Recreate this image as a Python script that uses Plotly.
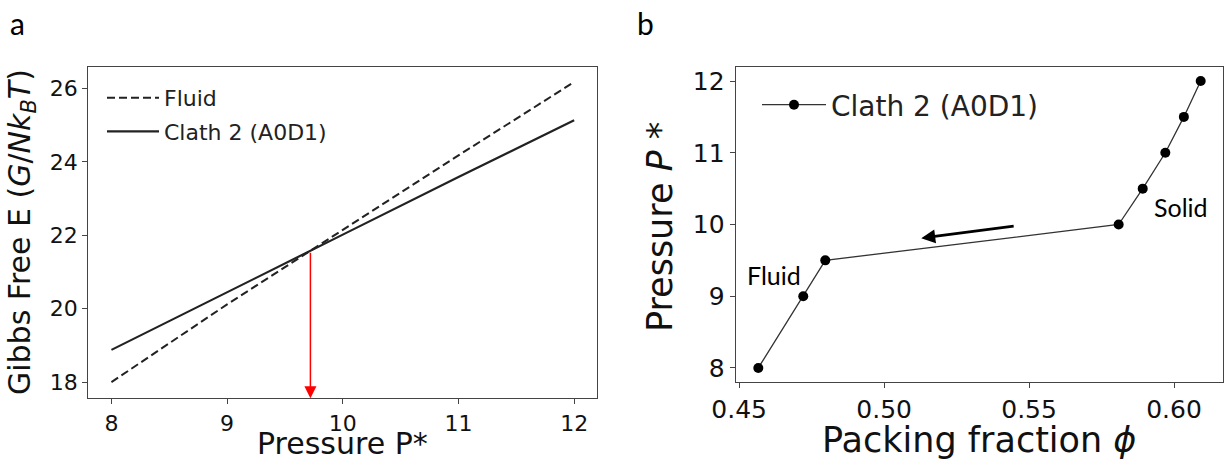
import plotly.graph_objects as go

# ---------------- data ----------------
# panel a: Gibbs free energy vs pressure
pressure_a = [8, 9, 10, 11, 12]
gibbs_fluid = [18.0, 20.12, 22.15, 24.18, 26.18]
gibbs_clath = [18.88, 20.46, 22.02, 23.59, 25.14]
coexistence_p = 9.72
coexistence_g = 21.57

# panel b: equation of state of Clath 2 (A0D1)
phi_b = [0.4566, 0.4721, 0.4797, 0.5809, 0.5892, 0.5970, 0.6034, 0.6092]
pressure_b = [8, 9, 9.5, 10, 10.5, 11, 11.5, 12]
arrow_b_phi = [0.5452, 0.5128]      # tail -> head
arrow_b_pressure = [9.98, 9.81]
fluid_label_pos = [0.4620, 9.30]
solid_label_pos = [0.6023, 10.24]

x_ticks_a = [8, 9, 10, 11, 12]
y_ticks_a = [18, 20, 22, 24, 26]
x_ticks_b = [0.45, 0.50, 0.55, 0.60]
y_ticks_b = [8, 9, 10, 11, 12]

x_range_a = [7.8, 12.2]
y_range_a = [17.56, 26.58]
x_range_b = [0.4488, 0.617]
y_range_b = [7.8, 12.2]

# ---------------- layout helpers ----------------
W, H = 1225, 461
FONT = "DejaVu Sans"
ANNOT_FONT = "Lato"
AX_COLOR = "#444444"
LINE_COLOR = "#222222"


def fx(p):
    return p / W


def fy(p):
    return 1 - p / H


fig = go.Figure()

fig.add_trace(go.Scatter(
    x=pressure_a, y=gibbs_fluid, mode="lines", name="Fluid",
    line=dict(color=LINE_COLOR, width=2, dash="8px,4px"),
    xaxis="x", yaxis="y", legend="legend", legendgroup="g1",
))
fig.add_trace(go.Scatter(
    x=pressure_a, y=gibbs_clath, mode="lines", name="Clath 2 (A0D1)",
    line=dict(color=LINE_COLOR, width=2.2),
    xaxis="x", yaxis="y", legend="legend", legendgroup="g2",
))
fig.add_trace(go.Scatter(
    x=phi_b, y=pressure_b, mode="lines+markers", name="Clath 2 (A0D1)",
    line=dict(color="#333333", width=1.3),
    marker=dict(color="black", size=10, line=dict(width=0)),
    xaxis="x2", yaxis="y2", legend="legend2",
))

axis_common = dict(
    showline=True, mirror=True, linecolor=AX_COLOR, linewidth=1.3,
    ticks="outside", ticklen=5, tickwidth=1.3, tickcolor=AX_COLOR,
    showgrid=False, zeroline=False, automargin=False,
)

fig.update_layout(
    width=W, height=H,
    margin=dict(l=0, r=0, t=0, b=0, autoexpand=False),
    paper_bgcolor="white", plot_bgcolor="white",
    font=dict(family=FONT, color="#111111"),
    xaxis=dict(domain=[fx(88.3), fx(597.3)], anchor="y", range=x_range_a,
               tickvals=x_ticks_a, tickfont=dict(size=22), **axis_common),
    yaxis=dict(domain=[fy(398.3), fy(67.3)], anchor="x", range=y_range_a,
               tickvals=y_ticks_a, tickfont=dict(size=22), **axis_common),
    xaxis2=dict(domain=[fx(735.7), fx(1223.3)], anchor="y2", range=x_range_b,
                tickvals=x_ticks_b, tickformat=".2f", tickfont=dict(size=25), **axis_common),
    yaxis2=dict(domain=[fy(382.3), fy(66.7)], anchor="x2", range=y_range_b,
                tickvals=y_ticks_b, tickfont=dict(size=25), **axis_common),
    legend=dict(x=fx(102), y=fy(77), xanchor="left", yanchor="top",
                font=dict(size=22, family=FONT, color="#222222"),
                bgcolor="rgba(0,0,0,0)", itemwidth=52,
                traceorder="grouped", tracegroupgap=2),
    legend2=dict(x=fx(757), y=fy(80), xanchor="left", yanchor="top",
                 font=dict(size=28, family=FONT, color="#222222"),
                 bgcolor="rgba(0,0,0,0)", itemwidth=64),
    showlegend=True,
)

annotations = [
    # red arrow marking the coexistence pressure, down to the bottom of the axis
    dict(x=coexistence_p, y=y_range_a[0], ax=coexistence_p, ay=coexistence_g,
         xref="x", yref="y", axref="x", ayref="y", text="", showarrow=True,
         arrowcolor="red", arrowwidth=1.5, arrowhead=2, arrowsize=1.6, standoff=0),
    # black arrow in panel b
    dict(x=arrow_b_phi[1], y=arrow_b_pressure[1], ax=arrow_b_phi[0], ay=arrow_b_pressure[0],
         xref="x2", yref="y2", axref="x2", ayref="y2", text="", showarrow=True,
         arrowcolor="black", arrowwidth=2.8, arrowhead=2, arrowsize=1.0, standoff=0),
    dict(x=fluid_label_pos[0], y=fluid_label_pos[1], xref="x2", yref="y2", text="Fluid",
         showarrow=False, font=dict(family=ANNOT_FONT, size=25, color="black")),
    dict(x=solid_label_pos[0], y=solid_label_pos[1], xref="x2", yref="y2", text="Solid",
         showarrow=False, font=dict(family=ANNOT_FONT, size=25, color="black")),
    # axis titles
    dict(x=fx(342), y=fy(443), xref="paper", yref="paper", text="Pressure P*",
         showarrow=False, xanchor="center", yanchor="middle",
         font=dict(family=FONT, size=30, color="#111111")),
    dict(x=fx(21), y=fy(232), xref="paper", yref="paper",
         text="Gibbs Free E (<i>G</i>/<i>Nk</i><sub><i>B</i></sub><i>T</i>)",
         showarrow=False, textangle=-90, xanchor="center", yanchor="middle",
         font=dict(family=FONT, size=30, color="#111111")),
    dict(x=fx(979), y=fy(440), xref="paper", yref="paper",
         text="Packing fraction <i>ϕ</i>",
         showarrow=False, xanchor="center", yanchor="middle",
         font=dict(family=FONT, size=35, color="#111111")),
    dict(x=fx(660), y=fy(227), xref="paper", yref="paper",
         text="Pressure <i>P</i> *",
         showarrow=False, textangle=-90, xanchor="center", yanchor="middle",
         font=dict(family=FONT, size=35, color="#111111")),
    # panel letters
    dict(x=fx(17), y=fy(23), xref="paper", yref="paper", text="a",
         showarrow=False, xanchor="center", yanchor="middle",
         font=dict(family=ANNOT_FONT, size=30, color="black")),
    dict(x=fx(645), y=fy(23), xref="paper", yref="paper", text="b",
         showarrow=False, xanchor="center", yanchor="middle",
         font=dict(family=ANNOT_FONT, size=30, color="black")),
]
fig.update_layout(annotations=annotations)

fig.write_html("out.html")
